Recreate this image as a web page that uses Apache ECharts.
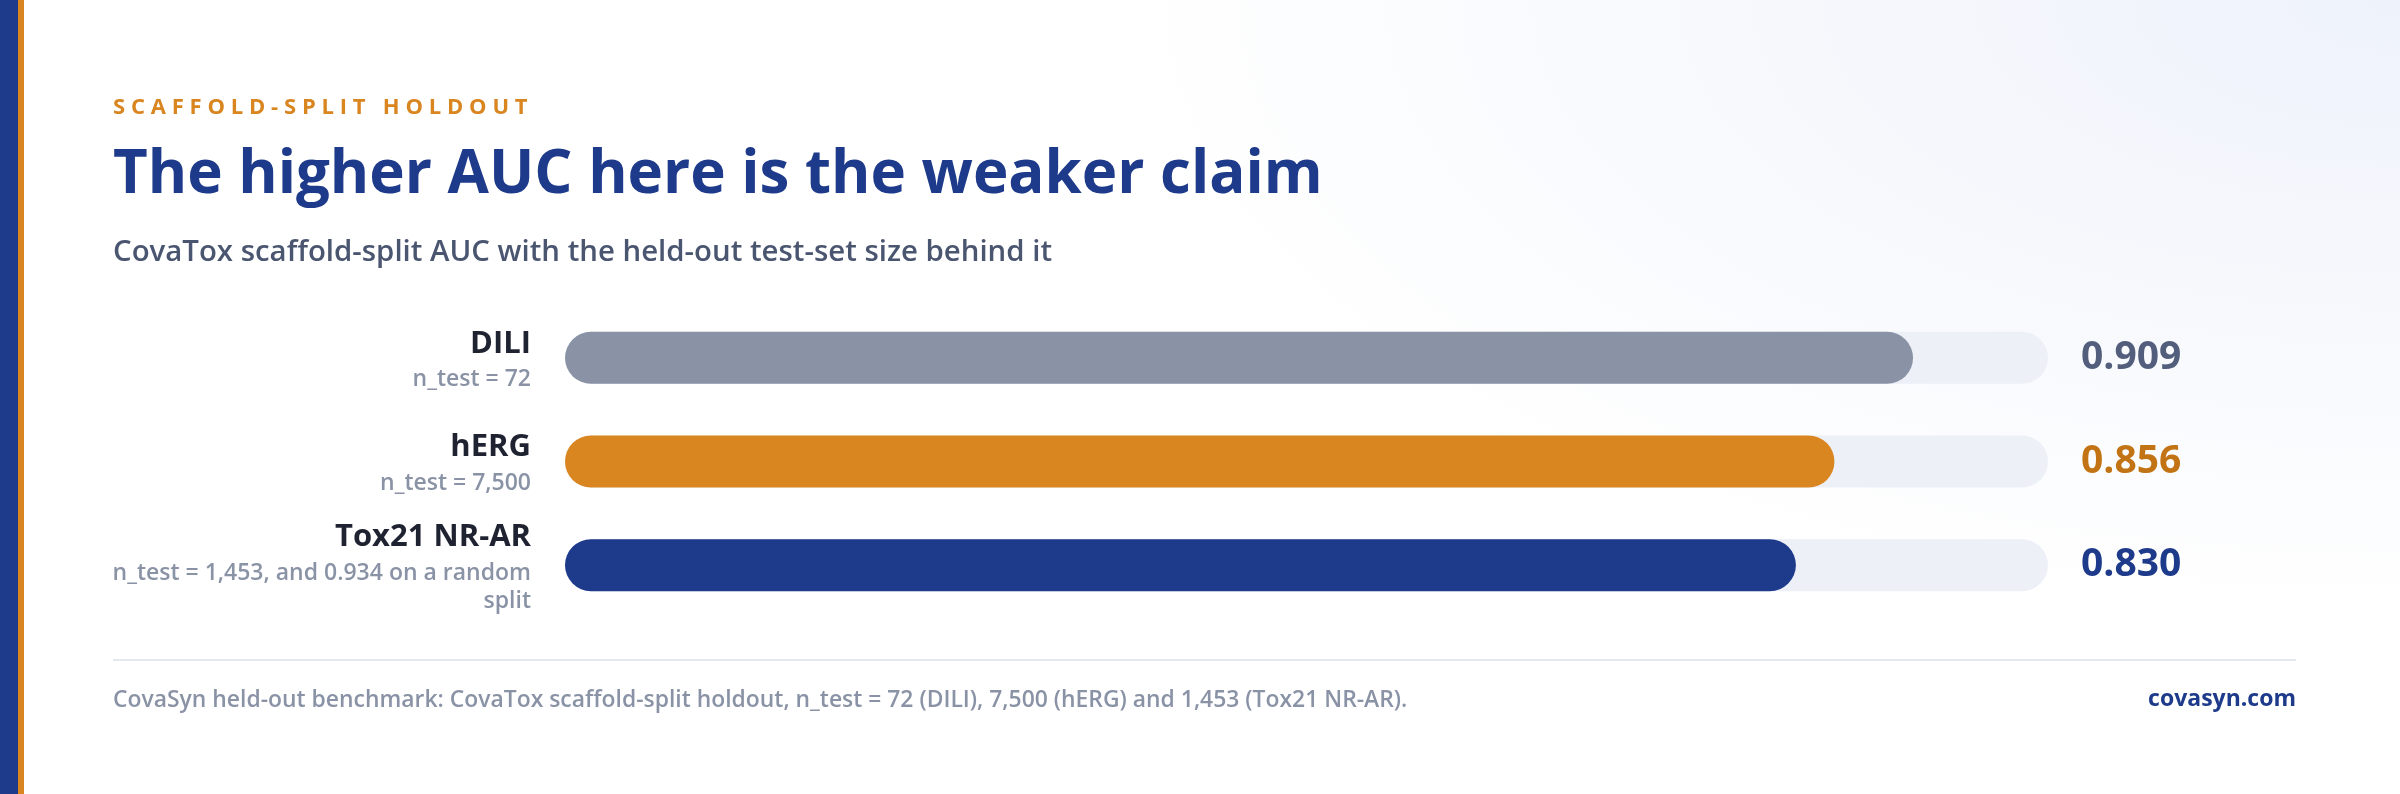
<!DOCTYPE html>
<html>
<head>
<meta charset="utf-8">
<title>Scaffold-split holdout</title>
<script src="https://cdn.jsdelivr.net/npm/echarts@6/dist/echarts.min.js"></script>
<style>
  html, body { margin: 0; padding: 0; background: #fff; }
  #wrap {
    position: relative; width: 2400px; height: 794px; overflow: hidden;
    background: radial-gradient(1300px 620px at 100% 0%, #EEF2FB 0%, #F5F7FC 40%, #FFFFFF 100%);
  }
  #chart { position: absolute; left: 0; top: 0; width: 2400px; height: 794px; }
  #eyebrow {
    position: absolute; left: 113px; top: 94px;
    font: 700 22px/22px 'Open Sans', sans-serif; letter-spacing: 5.8px;
    color: #D98520; white-space: nowrap;
  }
</style>
</head>
<body>
<div id="wrap">
  <div id="chart"></div>
  <div id="eyebrow">SCAFFOLD-SPLIT HOLDOUT</div>
</div>
<script>
const FONT = "'Open Sans', 'Noto Sans', sans-serif";
const NAVY = '#1E3A8A';
const ORANGE = '#D98520';

// data
const TASKS = ['DILI', 'hERG', 'Tox21 NR-AR'];
const SUBLABELS = ['n_test = 72', 'n_test = 7,500', 'n_test = 1,453, and 0.934 on a random split'];
const AUC = [0.909, 0.856, 0.830];
const AXIS_MAX = 1;

const BAR_COLORS = ['#8A93A6', ORANGE, NAVY];
const VALUE_COLORS = ['#525E7C', '#C27415', NAVY];

const TITLE = 'The higher AUC here is the weaker claim';
const SUBTITLE = 'CovaTox scaffold-split AUC with the held-out test-set size behind it';
const FOOTNOTE = 'CovaSyn held-out benchmark: CovaTox scaffold-split holdout, n_test = 72 (DILI), 7,500 (hERG) and 1,453 (Tox21 NR-AR).';
const BRAND = 'covasyn.com';

const SUB_SIZE = 23;
const SUB_WRAP = 450;

// word-wrap a label to a pixel width, returns lines
const measureCtx = document.createElement('canvas').getContext('2d');
function wrapLines(text, font, maxWidth) {
  measureCtx.font = font;
  const words = text.split(' ');
  const lines = [];
  let cur = '';
  words.forEach(w => {
    const next = cur ? cur + ' ' + w : w;
    if (cur && measureCtx.measureText(next).width > maxWidth) {
      lines.push(cur);
      cur = w;
    } else {
      cur = next;
    }
  });
  if (cur) lines.push(cur);
  return lines;
}

const chart = echarts.init(document.getElementById('chart'), null, { renderer: 'canvas' });

const option = {
  backgroundColor: 'transparent',
  animation: false,
  title: [
    {
      text: TITLE, left: 113, top: 146, padding: 0,
      textStyle: { fontFamily: FONT, fontSize: 60, fontWeight: 700, color: NAVY, lineHeight: 60 }
    },
    {
      text: SUBTITLE, left: 113, top: 238, padding: 0,
      textStyle: { fontFamily: FONT, fontSize: 29.4, fontWeight: 600, color: '#4A5570', lineHeight: 30 }
    },
    {
      text: FOOTNOTE, left: 113, top: 689, padding: 0,
      textStyle: { fontFamily: FONT, fontSize: 22.9, fontWeight: 600, color: '#8A93A6', lineHeight: 23 }
    },
    {
      text: BRAND, right: 104, top: 688, padding: 0,
      textStyle: { fontFamily: FONT, fontSize: 23, fontWeight: 700, color: NAVY, lineHeight: 23 }
    }
  ],
  graphic: [
    { type: 'rect', left: 0, top: 0, shape: { width: 18, height: 794 }, style: { fill: NAVY }, silent: true },
    { type: 'rect', left: 18, top: 0, shape: { width: 6, height: 794 }, style: { fill: ORANGE }, silent: true },
    { type: 'line', shape: { x1: 113, y1: 660, x2: 2296, y2: 660 }, style: { stroke: '#E3E8F1', lineWidth: 2 }, silent: true }
  ],
  grid: { left: 565, right: 352, top: 306, height: 311, containLabel: false },
  xAxis: {
    type: 'value', min: 0, max: AXIS_MAX, show: false
  },
  yAxis: {
    type: 'category',
    data: TASKS,
    inverse: true,
    axisLine: { show: false },
    axisTick: { show: false },
    splitLine: { show: false },
    axisLabel: {
      margin: 34,
      align: 'right',
      formatter: (v, i) => {
        const subs = wrapLines(SUBLABELS[i], `600 ${SUB_SIZE}px ${FONT}`, SUB_WRAP)
          .map(l => `{sub|${l}}`).join('\n');
        return `{name|${v}}\n${subs}`;
      },
      rich: {
        name: { fontFamily: FONT, fontSize: 31, fontWeight: 700, color: '#1F2230', lineHeight: 44, align: 'right' },
        sub: { fontFamily: FONT, fontSize: SUB_SIZE, fontWeight: 600, color: '#8A93A6', lineHeight: 28, align: 'right' }
      }
    }
  },
  series: [
    {
      name: 'track',
      type: 'bar',
      silent: true,
      barWidth: 52,
      barGap: '-100%',
      itemStyle: { color: '#EDF0F7', borderRadius: 26 },
      data: TASKS.map((t, i) => ({
        value: AXIS_MAX,
        label: { color: VALUE_COLORS[i] }
      })),
      label: {
        show: true,
        position: 'right',
        distance: 33,
        fontFamily: FONT,
        fontSize: 39,
        fontWeight: 700,
        formatter: (p) => AUC[p.dataIndex].toFixed(3)
      },
      z: 1
    },
    {
      name: 'AUC',
      type: 'bar',
      barWidth: 52,
      barGap: '-100%',
      itemStyle: { borderRadius: 26 },
      data: AUC.map((v, i) => ({ value: v, itemStyle: { color: BAR_COLORS[i] } })),
      z: 2
    }
  ]
};

chart.setOption(option);
</script>
</body>
</html>
